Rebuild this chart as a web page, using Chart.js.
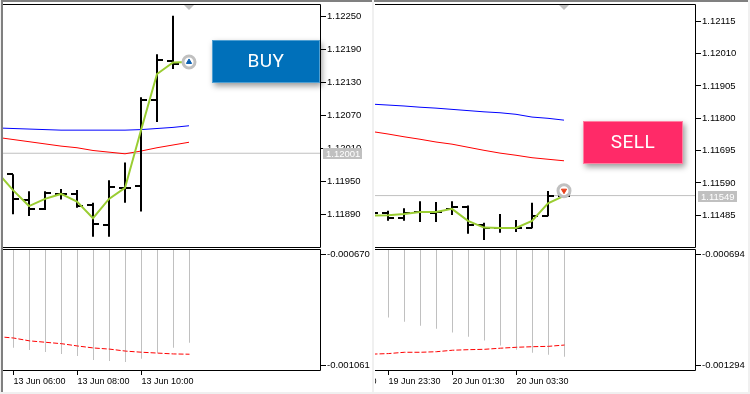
<!DOCTYPE html>
<html>
<head>
  <meta charset="UTF-8">
  <title>BUY / SELL</title>
  <script src="https://cdn.jsdelivr.net/npm/chart.js"></script>
  <style>
    html, body { margin: 0; padding: 0; }
    body { width: 750px; height: 394px; background: #f0f0f0; position: relative; overflow: hidden; }
    .frame { position: absolute; background: #fff; }
    canvas { position: absolute; }
    .btn {
      position: absolute; color: #fff; text-align: center;
      font: 400 19px Roboto, sans-serif; box-sizing: border-box;
      box-shadow: 2px 3px 6px rgba(0, 0, 0, .4);
    }
    #buy { left: 212px; top: 40px; width: 108px; height: 43px; line-height: 39px; background: #0070ba; border: 1px solid #4f9fd2; letter-spacing: .5px; }
    #sell { left: 583px; top: 121px; width: 100px; height: 43px; line-height: 39px; background: #ff2a68; border: 1px solid #ff80a2; letter-spacing: .5px; }
  </style>
</head>
<body>
  <div class="frame" style="left:1px;top:0;width:371px;height:392px;border-top:2px solid #808080;border-left:2px solid #808080;box-sizing:border-box"></div>
  <div class="frame" style="left:374px;top:0;width:374px;height:392px;border-top:2px solid #808080;box-sizing:border-box"></div>
  <canvas id="leftPrice"></canvas>
  <canvas id="leftMacd"></canvas>
  <canvas id="rightPrice"></canvas>
  <canvas id="rightMacd"></canvas>
  <div class="btn" id="buy">BUY</div>
  <div class="btn" id="sell">SELL</div>

  <script>
    // left window, 13 Jun
    const leftOpen  = [1.11963, 1.11916, 1.11900, 1.11927, 1.11927, 1.11906, 1.11871, 1.11938, 1.11941, 1.12098, 1.12169];
    const leftHigh  = [1.11963, 1.11932, 1.11932, 1.11936, 1.11934, 1.11911, 1.11952, 1.11984, 1.12103, 1.12181, 1.12251];
    const leftLow   = [1.11890, 1.11887, 1.11898, 1.11917, 1.11902, 1.11849, 1.11849, 1.11911, 1.11895, 1.12058, 1.12154];
    const leftClose = [1.11918, 1.11900, 1.11928, 1.11927, 1.11905, 1.11872, 1.11940, 1.11938, 1.12098, 1.12171, 1.12163];
    const leftGreen = [1.11967, 1.11934, 1.11905, 1.11918, 1.11927, 1.11913, 1.11883, 1.11918, 1.11938, 1.12043, 1.12145, 1.12166, 1.12167];
    const leftBlue  = [1.12047, 1.12046, 1.12045, 1.12044, 1.12043, 1.12043, 1.12043, 1.12043, 1.12043, 1.12044, 1.12046, 1.12048, 1.12051];
    const leftRed   = [1.12030, 1.12026, 1.12022, 1.12018, 1.12014, 1.12011, 1.12006, 1.12003, 1.12000, 1.12005, 1.12011, 1.12016, 1.12021];
    const leftHist  = [-0.000998, -0.001006, -0.001013, -0.001020, -0.001027, -0.001041, -0.001045, -0.001048, -0.001037, -0.001016, -0.000998, -0.000981];
    const leftSignal = [-0.000959, -0.000964, -0.000974, -0.000979, -0.000984, -0.000992, -0.000999, -0.001003, -0.001010, -0.001014, -0.001017, -0.001020, -0.001021];
    const leftPriceTicks = [1.12250, 1.12190, 1.12130, 1.12070, 1.12010, 1.11950, 1.11890];
    const leftMacdTicks = [-0.000670, -0.001061];
    const leftTimeTicks = [0, 4, 8];
    const leftTimeLabels = ['13 Jun 06:00', '13 Jun 08:00', '13 Jun 10:00'];
    const leftLast = 1.12001;
    const leftMark = 1.12167;

    // right window, 19-20 Jun (its bars start one step before the first time label)
    const rightOpen  = [1.11493, 1.11492, 1.11475, 1.11497, 1.11492, 1.11505, 1.11513, 1.11453, 1.11445, 1.11445, 1.11444, 1.11483, 1.11549];
    const rightHigh  = [1.11493, 1.11500, 1.11508, 1.11531, 1.11528, 1.11531, 1.11517, 1.11461, 1.11489, 1.11470, 1.11526, 1.11564, 1.11549];
    const rightLow   = [1.11493, 1.11467, 1.11467, 1.11463, 1.11463, 1.11486, 1.11425, 1.11405, 1.11428, 1.11431, 1.11443, 1.11482, 1.11549];
    const rightClose = [1.11493, 1.11475, 1.11493, 1.11497, 1.11497, 1.11513, 1.11453, 1.11445, 1.11445, 1.11445, 1.11483, 1.11548, 1.11549];
    const rightGreen = [1.11484, 1.11485, 1.11489, 1.11496, 1.11496, 1.11506, 1.11467, 1.11445, 1.11444, 1.11444, 1.11467, 1.11524, 1.11548];
    const rightBlue  = [1.11846, 1.11843, 1.11840, 1.11836, 1.11833, 1.11829, 1.11825, 1.11821, 1.11818, 1.11813, 1.11804, 1.11800, 1.11794];
    const rightRed   = [1.11757, 1.11749, 1.11740, 1.11732, 1.11723, 1.11716, 1.11706, 1.11696, 1.11687, 1.11680, 1.11672, 1.11667, 1.11662];
    const rightHist  = [-0.001035, -0.001057, -0.001079, -0.001095, -0.001116, -0.001138, -0.001159, -0.001186, -0.001208, -0.001224, -0.001235, -0.001246];
    const rightSignal = [-0.001232, -0.001229, -0.001222, -0.001222, -0.001219, -0.001211, -0.001208, -0.001206, -0.001200, -0.001195, -0.001192, -0.001190, -0.001183];
    const rightPriceTicks = [1.12115, 1.12010, 1.11905, 1.11800, 1.11695, 1.11590, 1.11485];
    const rightMacdTicks = [-0.000694, -0.001294];
    // the first label sits mostly off the window, only its last glyph shows
    const rightTimeTicks = [-4, 0, 4, 8];
    const rightTimeLabels = ['19 Jun 21:30', '19 Jun 23:30', '20 Jun 01:30', '20 Jun 03:30'];
    const rightLast = 1.11549;
    const rightMark = 1.11565;

    const FONT = { family: '"Liberation Sans", sans-serif', size: 9.5 };

    function fixAxis(size) {
      return function (s) {
        if (s.isHorizontal()) s.height = size; else s.width = size;
        s.paddingTop = s.paddingBottom = s.paddingLeft = s.paddingRight = 0;
      };
    }

    // black box around the plot, top and right and bottom only
    const box = {
      id: 'box',
      afterDraw(chart) {
        const a = chart.chartArea, c = chart.ctx;
        c.save();
        c.strokeStyle = '#000';
        c.lineWidth = 1;
        c.beginPath();
        c.moveTo(a.left, a.top + 0.5);
        c.lineTo(a.right - 0.5, a.top + 0.5);
        c.lineTo(a.right - 0.5, a.bottom - 0.5);
        c.lineTo(a.left, a.bottom - 0.5);
        c.stroke();
        c.restore();
      }
    };

    // open / close ticks of the price bars, triangle on top, last price label
    function pricePlugin(open, close, first, last) {
      return {
        id: 'priceExtras',
        afterDatasetDraw(chart, args) {
          if (args.meta.type !== 'bar') return;
          const c = chart.ctx, a = chart.chartArea, xs = chart.scales.x, ys = chart.scales.y;
          c.save();
          c.beginPath();
          c.rect(a.left, a.top, a.right - a.left, a.bottom - a.top);
          c.clip();
          c.fillStyle = '#000';
          open.forEach((v, k) => {
            const px = Math.round(xs.getPixelForValue(k + first));
            c.fillRect(px - 6, Math.round(ys.getPixelForValue(v)) - 1, 6, 2);
            c.fillRect(px, Math.round(ys.getPixelForValue(close[k])) - 1, 6, 2);
          });
          c.restore();
        },
        afterDraw(chart) {
          const c = chart.ctx, a = chart.chartArea, xs = chart.scales.x, ys = chart.scales.y;
          const tx = xs.getPixelForValue(11), py = Math.round(ys.getPixelForValue(last));
          c.save();
          c.fillStyle = '#c0c0c0';
          c.beginPath();
          c.moveTo(tx - 5, a.top + 1);
          c.lineTo(tx + 5, a.top + 1);
          c.lineTo(tx, a.top + 6);
          c.fill();
          c.fillRect(a.right + 2, py - 5, 39, 11);
          c.fillStyle = '#fff';
          c.font = '9.5px "Liberation Sans", sans-serif';
          c.textBaseline = 'middle';
          c.fillText(last.toFixed(5), a.right + 5, py + 1);
          c.restore();
        }
      };
    }

    function pts(values, first) {
      return values.map((v, k) => ({ x: k + first, y: v }));
    }

    function priceChart(id, left, width, p) {
      const el = document.getElementById(id);
      el.style.left = left + 'px';
      el.style.top = '0px';
      el.width = width;
      el.height = 248;
      return new Chart(el, {
        type: 'line',
        data: {
          datasets: [
            { type: 'bar', data: p.low.map((v, k) => ({ x: k + p.first, y: [v, p.high[k]] })), backgroundColor: '#000', barThickness: 2, inflateAmount: 0, grouped: false, order: 4 },
            { data: pts(p.green, -1), borderColor: '#9acd32', borderWidth: 2, order: 3 },
            { data: pts(p.blue, -1), borderColor: '#0000ff', borderWidth: 1, order: 5 },
            { data: pts(p.red, -1), borderColor: '#ff0000', borderWidth: 1, order: 5 },
            { data: [{ x: p.xMin, y: p.last }, { x: p.xMax, y: p.last }], borderColor: '#c0c0c0', borderWidth: 1, order: 6 },
            { data: [{ x: 11, y: p.mark }], showLine: false, pointRadius: 6, pointBorderWidth: 3, pointBackgroundColor: '#fff', pointBorderColor: '#c0c0c0', order: 2 },
            { data: [{ x: 11, y: p.mark }], showLine: false, pointStyle: 'triangle', pointRadius: 3, pointRotation: p.arrowRot, pointBackgroundColor: p.arrow, pointBorderColor: p.arrow, pointBorderWidth: 1, order: 1 }
          ]
        },
        options: {
          responsive: false, animation: false, devicePixelRatio: 1,
          layout: { autoPadding: false, padding: { top: 4, left: 0, right: 0, bottom: 0 } },
          elements: { point: { radius: 0 }, line: { tension: 0 } },
          plugins: { legend: { display: false }, tooltip: { enabled: false } },
          scales: {
            x: { type: 'linear', display: false, offset: false, min: p.xMin, max: p.xMax, grid: { display: false } },
            y: {
              position: 'right', min: p.yMin, max: p.yMax,
              border: { display: false },
              grid: { drawOnChartArea: false, tickLength: 5, tickColor: '#000' },
              ticks: { color: '#000', font: FONT, padding: 1, autoSkip: false, callback: v => v.toFixed(5) },
              afterBuildTicks: s => { s.ticks = p.ticks.map(v => ({ value: v })); },
              afterFit: fixAxis(51)
            }
          }
        },
        plugins: [box, pricePlugin(p.open, p.close, p.first, p.last)]
      });
    }

    function macdChart(id, left, width, m) {
      const el = document.getElementById(id);
      el.style.left = left + 'px';
      el.style.top = '249px';
      el.width = width;
      el.height = 141;
      return new Chart(el, {
        type: 'bar',
        data: {
          datasets: [
            { type: 'line', data: pts(m.signal, -1), borderColor: '#ff0000', borderWidth: 1, borderDash: [5, 2], pointRadius: 0, tension: 0, order: 1 },
            { data: pts(m.hist, 0), backgroundColor: '#c0c0c0', barThickness: 1, inflateAmount: 0, grouped: false, order: 2 }
          ]
        },
        options: {
          responsive: false, animation: false, devicePixelRatio: 1,
          layout: { autoPadding: false, padding: 0 },
          plugins: { legend: { display: false }, tooltip: { enabled: false } },
          scales: {
            x: {
              type: 'linear', offset: false, min: m.xMin, max: m.xMax,
              border: { display: false },
              grid: { drawOnChartArea: false, offset: false, tickLength: 4, tickColor: '#000' },
              ticks: { color: '#000', font: { family: FONT.family, size: 9 }, padding: 1, align: 'start', autoSkip: false, maxRotation: 0, minRotation: 0, callback: (v, i) => m.labels[i] },
              afterBuildTicks: s => { s.ticks = m.timeTicks.map(v => ({ value: v })); },
              afterFit: fixAxis(19)
            },
            y: {
              position: 'right', min: m.yMin, max: m.yMax,
              border: { display: false },
              grid: { drawOnChartArea: false, tickLength: 5, tickColor: '#000' },
              ticks: { color: '#000', font: FONT, padding: 1, autoSkip: false, callback: v => v.toFixed(6) },
              afterBuildTicks: s => { s.ticks = m.ticks.map(v => ({ value: v })); },
              afterFit: fixAxis(51)
            }
          }
        },
        plugins: [box]
      });
    }

    priceChart('leftPrice', 3, 369, {
      open: leftOpen, high: leftHigh, low: leftLow, close: leftClose, first: 0,
      green: leftGreen, blue: leftBlue, red: leftRed, ticks: leftPriceTicks,
      last: leftLast, mark: leftMark, arrow: '#0a5fb0', arrowRot: 0,
      xMin: -0.625, xMax: 19.25, yMin: 1.118287, yMax: 1.122724
    });
    macdChart('leftMacd', 3, 369, {
      hist: leftHist, signal: leftSignal, ticks: leftMacdTicks, labels: leftTimeLabels, timeTicks: leftTimeTicks,
      xMin: -0.65625, xMax: 19.21875, yMin: -0.00108, yMax: -0.000651
    });
    priceChart('rightPrice', 375, 372, {
      open: rightOpen, high: rightHigh, low: rightLow, close: rightClose, first: -1,
      green: rightGreen, blue: rightBlue, red: rightRed, ticks: rightPriceTicks,
      last: rightLast, mark: rightMark, arrow: '#e8401c', arrowRot: 180,
      xMin: -0.8125, xMax: 19.25, yMin: 1.113788, yMax: 1.121712
    });
    macdChart('rightMacd', 375, 372, {
      hist: rightHist, signal: rightSignal, ticks: rightMacdTicks, labels: rightTimeLabels, timeTicks: rightTimeTicks,
      xMin: -0.84375, xMax: 19.21875, yMin: -0.001323, yMax: -0.000665
    });
  </script>
</body>
</html>
